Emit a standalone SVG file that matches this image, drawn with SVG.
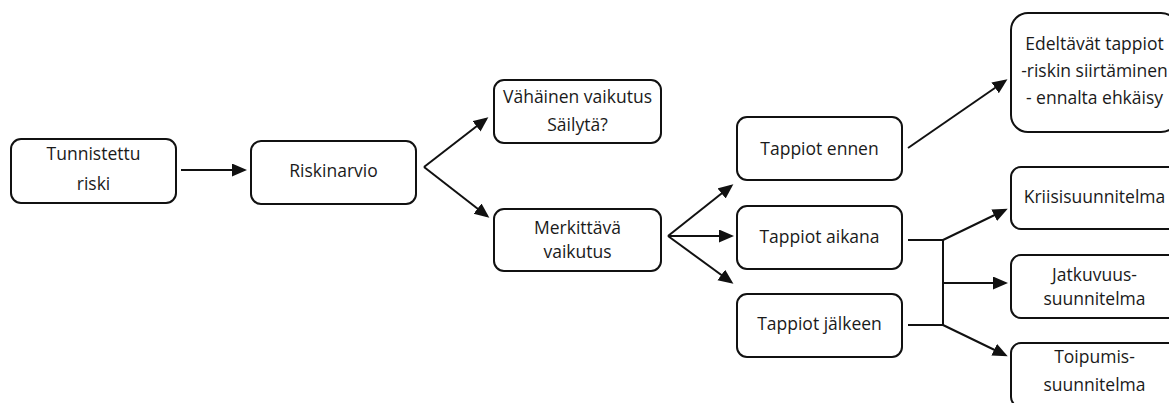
<svg xmlns="http://www.w3.org/2000/svg" width="1169" height="403" viewBox="0 0 1169 403">
<style>
.box{fill:#fff;stroke:#111;stroke-width:2}
.t{font-family:"Open Sans","Noto Sans","Liberation Sans",sans-serif;font-size:17.5px;fill:#1a1a1a;text-anchor:middle}
.c{fill:none;stroke:#111;stroke-width:2}
.a{marker-end:url(#ah)}
</style>
<defs>
<marker id="ah" markerUnits="userSpaceOnUse" markerWidth="16" markerHeight="14" refX="12" refY="6.5" orient="auto">
<path d="M0,0 L15,6.5 L0,13 z" fill="#111"/>
</marker>
</defs>
<rect width="1169" height="403" fill="#fff"/>
<g id="n-tunnistettu"><rect class="box" x="11" y="139" width="165" height="64" rx="10"/><text class="t" x="93.5" y="160">Tunnistettu</text><text class="t" x="93.5" y="190">riski</text></g>
<g id="n-riskinarvio"><rect class="box" x="251" y="141" width="165" height="63" rx="10"/><text class="t" x="333.5" y="177">Riskinarvio</text></g>
<g id="n-vahainen"><rect class="box" x="494" y="80" width="167" height="63" rx="10"/><text class="t" x="577.5" y="103">Vähäinen vaikutus</text><text class="t" x="577.5" y="131">Säilytä?</text></g>
<g id="n-merkittava"><rect class="box" x="494" y="209" width="167" height="62" rx="10"/><text class="t" x="577.5" y="234">Merkittävä</text><text class="t" x="577.5" y="258">vaikutus</text></g>
<g id="n-ennen"><rect class="box" x="737" y="117" width="165" height="63" rx="10"/><text class="t" x="819.5" y="155">Tappiot ennen</text></g>
<g id="n-aikana"><rect class="box" x="737" y="206" width="165" height="63" rx="10"/><text class="t" x="819.5" y="243">Tappiot aikana</text></g>
<g id="n-jalkeen"><rect class="box" x="737" y="294" width="165" height="63" rx="10"/><text class="t" x="819.5" y="330">Tappiot jälkeen</text></g>
<g id="n-edeltavat"><rect class="box" x="1011" y="13" width="167" height="119" rx="17"/><text class="t" x="1094.5" y="50">Edeltävät tappiot</text><text class="t" x="1094.5" y="77">-riskin siirtäminen</text><text class="t" x="1094.5" y="104">- ennalta ehkäisy</text></g>
<g id="n-kriisi"><rect class="box" x="1011" y="167" width="167" height="62" rx="10"/><text class="t" x="1094.5" y="203">Kriisisuunnitelma</text></g>
<g id="n-jatkuvuus"><rect class="box" x="1011" y="255" width="167" height="63" rx="10"/><text class="t" x="1094.5" y="281">Jatkuvuus-</text><text class="t" x="1094.5" y="305">suunnitelma</text></g>
<g id="n-toipumis"><rect class="box" x="1011" y="343" width="167" height="64" rx="10"/><text class="t" x="1094.5" y="363">Toipumis-</text><text class="t" x="1094.5" y="391">suunnitelma</text></g>
<g id="connectors">
<line class="c a" x1="181" y1="170" x2="244" y2="170"/>
<line class="c a" x1="424" y1="167" x2="486" y2="119"/>
<line class="c a" x1="424" y1="167" x2="487" y2="216"/>
<line class="c a" x1="668" y1="236" x2="731" y2="186"/>
<line class="c a" x1="668" y1="236" x2="731" y2="236"/>
<line class="c a" x1="668" y1="236" x2="731" y2="282"/>
<line class="c a" x1="908" y1="148" x2="1005" y2="81"/>
<path class="c" d="M908,240 H943 M908,325 H943 M943,239 V326"/>
<line class="c a" x1="943" y1="240" x2="1005" y2="210"/>
<line class="c a" x1="943" y1="283" x2="1005" y2="283"/>
<line class="c a" x1="943" y1="325" x2="1005" y2="355"/>
</g>
</svg>
